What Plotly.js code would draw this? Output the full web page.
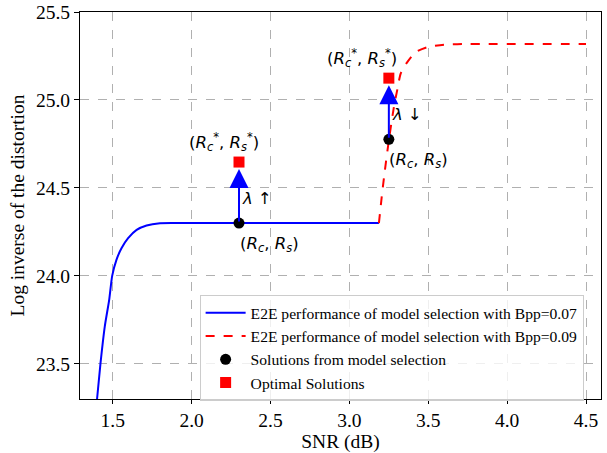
<!DOCTYPE html>
<html>
<head>
<meta charset="utf-8">
<script src="https://cdn.plot.ly/plotly-3.0.1.min.js"></script>
<style>html,body{margin:0;padding:0;background:#fff;}</style>
</head>
<body>
<div id="chart" style="width:607px;height:453px;"></div>
<script>
// Blue curve: Bpp=0.07
var blueX = [1.400, 1.422, 1.449, 1.477, 1.496, 1.523, 1.555, 1.597, 1.651, 1.714, 1.799, 1.926, 2.3, 3.187];
var blueY = [23.30, 23.504, 23.712, 23.864, 24.00, 24.091, 24.157, 24.214, 24.261, 24.286, 24.299, 24.30, 24.30, 24.30];
// Red curve: Bpp=0.09
var redX = [3.187, 3.205, 3.222, 3.25, 3.282, 3.304, 3.325, 3.367, 3.42, 3.494, 3.6, 3.75, 4.5];
var redY = [24.30, 24.45, 24.58, 24.77, 24.96, 25.06, 25.15, 25.215, 25.272, 25.30, 25.314, 25.318, 25.318];
// Solutions from model selection
var dotX = [2.3, 3.25];
var dotY = [24.30, 24.776];
// Optimal solutions
var sqX = [2.3, 3.25];
var sqY = [24.647, 25.124];

var xTicks = [1.5, 2.0, 2.5, 3.0, 3.5, 4.0, 4.5];
var yTicks = [23.5, 24.0, 24.5, 25.0, 25.5];

var legendNames = [
  'E2E performance of model selection with Bpp=0.07',
  'E2E performance of model selection with Bpp=0.09',
  'Solutions from model selection',
  'Optimal Solutions'
];

var optLabel = '(<i>R</i><sub><i>c</i></sub><sup>*</sup>, <i>R</i><sub><i>s</i></sub><sup>*</sup>)';
var solLabel = '(<i>R</i><sub><i>c</i></sub>, <i>R</i><sub><i>s</i></sub>)';
var lamLabels = ['<i>λ</i> ↑', '<i>λ</i> ↓'];

var traces = [
  {x: blueX, y: blueY, mode: 'lines', name: legendNames[0], line: {color: '#0000ff', width: 2, shape: 'spline', smoothing: 0.6}},
  {x: redX, y: redY, mode: 'lines', name: legendNames[1], line: {color: '#ff0000', width: 2, dash: 'dash', shape: 'spline', smoothing: 0.6}},
  {x: dotX, y: dotY, mode: 'markers', name: legendNames[2], marker: {color: '#000000', size: 11, symbol: 'circle'}},
  {x: sqX, y: sqY, mode: 'markers', name: legendNames[3], marker: {color: '#ff0000', size: 11, symbol: 'square'}}
];

var mathFont = {family: 'DejaVu Sans', size: 16.5, color: '#000'};
var annotations = [];
for (var i = 0; i < dotX.length; i++) {
  annotations.push({
    x: sqX[i], y: sqY[i], ax: dotX[i], ay: dotY[i], axref: 'x', ayref: 'y', xref: 'x', yref: 'y',
    showarrow: true, arrowhead: 2, arrowsize: 1.9, arrowwidth: 2, arrowcolor: '#0000ff',
    standoff: 7, startstandoff: 0, text: ''
  });
  annotations.push({x: sqX[i], y: sqY[i], xref: 'x', yref: 'y', text: optLabel, showarrow: false,
    xshift: i === 0 ? -15 : -27, yshift: 20, font: mathFont});
  annotations.push({x: dotX[i], y: dotY[i], xref: 'x', yref: 'y', text: lamLabels[i], showarrow: false,
    xshift: 18, yshift: 25, font: mathFont});
  annotations.push({x: dotX[i], y: dotY[i], xref: 'x', yref: 'y', text: solLabel, showarrow: false,
    xshift: 30, yshift: -21, font: mathFont});
}

var serif = '"Liberation Serif", "Times New Roman", Times, serif';
var layout = {
  width: 607, height: 453,
  margin: {l: 80, r: 6, t: 12, b: 54},
  paper_bgcolor: '#ffffff', plot_bgcolor: '#ffffff',
  font: {family: serif, color: '#000'},
  showlegend: true,
  xaxis: {
    range: [1.292, 4.595], tickvals: xTicks, tickformat: '.1f',
    ticks: 'outside', ticklen: 4, tickwidth: 1, tickcolor: '#000',
    showline: true, linecolor: '#000', linewidth: 1, mirror: true,
    showgrid: true, gridcolor: '#b0b0b0', griddash: 'dash', gridwidth: 1,
    zeroline: false, tickfont: {family: serif, size: 19.5},
    title: {text: 'SNR (dB)', font: {family: serif, size: 19.5}, standoff: 2}
  },
  yaxis: {
    range: [23.30, 25.50], tickvals: yTicks, tickformat: '.1f',
    ticks: 'outside', ticklen: 5, tickwidth: 1, tickcolor: '#000',
    showline: true, linecolor: '#000', linewidth: 1, mirror: true,
    showgrid: true, gridcolor: '#b0b0b0', griddash: 'dash', gridwidth: 1,
    zeroline: false, tickfont: {family: serif, size: 19.5},
    title: {text: 'Log inverse of the distortion', font: {family: serif, size: 19.5}, standoff: 6}
  },
  legend: {
    x: 0.2296, y: 0.2685, xanchor: 'left', yanchor: 'top',
    bgcolor: 'rgba(255,255,255,0.8)', bordercolor: '#cccccc', borderwidth: 1,
    font: {family: serif, size: 15.6}, itemwidth: 40, tracegroupgap: 0
  },
  annotations: annotations
};

Plotly.newPlot('chart', traces, layout, {displayModeBar: false, staticPlot: true});
</script>
</body>
</html>
